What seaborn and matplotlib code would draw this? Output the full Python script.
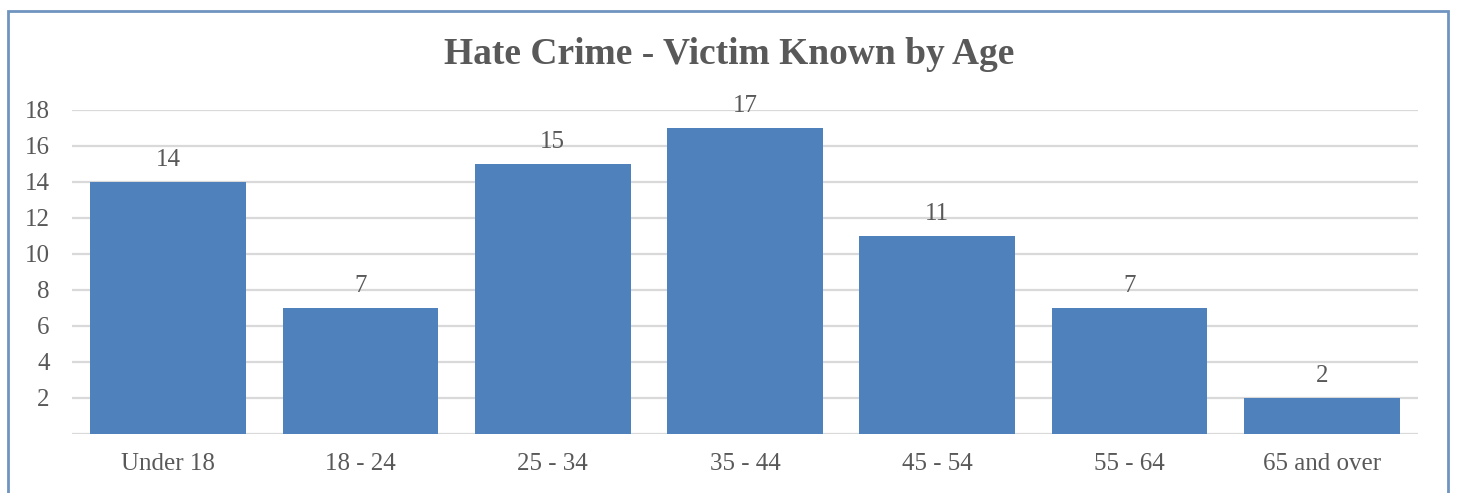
import matplotlib
matplotlib.use("Agg")
import pandas as pd
import seaborn as sns
import matplotlib.pyplot as plt
from matplotlib.patches import Rectangle

age_groups = ["Under 18", "18 - 24", "25 - 34", "35 - 44", "45 - 54", "55 - 64", "65 and over"]
victims = [14, 7, 15, 17, 11, 7, 2]
y_ticks = [2, 4, 6, 8, 10, 12, 14, 16, 18]

df = pd.DataFrame({"age": age_groups, "count": victims})

sns.set_style("white")
plt.rcParams["font.family"] = ["Liberation Serif", "DejaVu Serif"]

text_col = "#595959"
bar_col = "#4f81bd"
grid_col = "#d9d9d9"

fig = plt.figure(figsize=(14.58, 4.93), dpi=100)
ax = fig.add_axes([72 / 1458, 59 / 493, (1418 - 72) / 1458, 324 / 493])

# chart frame
fig.patches.append(Rectangle((8 / 1458, -0.05), 1440 / 1458, 1.05 - 11 / 493,
                             transform=fig.transFigure, fill=False,
                             edgecolor="#7094c0", linewidth=2))

sns.barplot(data=df, x="age", y="count", color=bar_col, saturation=1,
            width=0.81, linewidth=0, ax=ax, zorder=3)

ax.set_ylim(0, 18)
ax.set_yticks(y_ticks)
for t in [0] + y_ticks:
    ax.axhline(t, color=grid_col, linewidth=1.6, zorder=1)

ax.bar_label(ax.containers[0], fmt="%d", padding=8, fontsize=18, color=text_col)

ax.tick_params(axis="y", length=0, pad=16, labelsize=18, labelcolor=text_col)
ax.tick_params(axis="x", length=0, pad=14, labelsize=18, labelcolor=text_col)
ax.set_xlabel("")
ax.set_ylabel("")
sns.despine(ax=ax, left=True, bottom=True)

fig.text(0.5, 1 - 55 / 493, "Hate Crime - Victim Known by Age", ha="center",
         va="center", fontsize=27, fontweight="bold", color=text_col)

fig.savefig("out.png", dpi=100)
